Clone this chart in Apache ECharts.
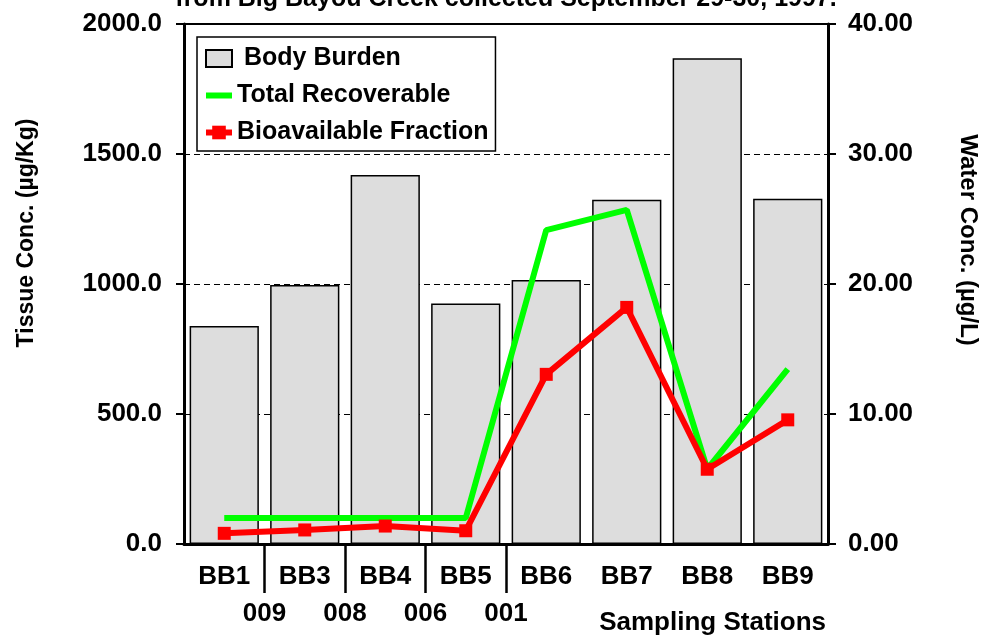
<!DOCTYPE html>
<html>
<head>
<meta charset="utf-8">
<script src="https://cdn.jsdelivr.net/npm/echarts@6/dist/echarts.min.js"></script>
<style>
    html, body { margin: 0; padding: 0; background: #fff; }
    #chart { width: 988px; height: 638px; }
</style>
</head>
<body>
<div id="chart"></div>
<script>
'use strict';

// stations along the creek
var stations = ['BB1', 'BB3', 'BB4', 'BB5', 'BB6', 'BB7', 'BB8', 'BB9'];
// outfall codes sitting between stations
var outfallPos = [1, 2, 3, 4];
var outfallCodes = ['009', '008', '006', '001'];

// tissue conc. (ug/Kg)
var bodyBurden = [838, 996, 1419, 925, 1015, 1324, 1868, 1328];
// water conc. (ug/L)
var totalRecoverable = [2.0, 2.0, 2.0, 2.0, 24.15, 25.7, 5.75, 13.45];
var bioavailable = [0.82, 1.08, 1.38, 1.02, 13.05, 18.2, 5.75, 9.55];

var FONT = '"Liberation Sans", Arial, sans-serif';

function floatchart() {
    var myChart = echarts.init(document.getElementById('chart'));

    var option = {
        animation: false,
        title: {
            text: 'from Big Bayou Creek collected September 29-30, 1997.',
            left: 501,
            textAlign: 'center',
            top: -18,
            textStyle: {
                fontFamily: FONT,
                fontWeight: 'bold',
                fontSize: 25,
                color: '#000'
            }
        },
        legend: {
            orient: 'vertical',
            left: 197,
            top: 37,
            padding: [9, 7, 6, 6],
            itemGap: 12,
            itemWidth: 26,
            itemHeight: 17,
            borderColor: '#000',
            borderWidth: 1.5,
            backgroundColor: '#fff',
            data: [
                {name: 'Body Burden', icon: 'rect'},
                {name: 'Total Recoverable', itemStyle: {opacity: 0}, lineStyle: {width: 6}},
                {name: 'Bioavailable Fraction', lineStyle: {width: 6}}
            ],
            formatter: function (name) {
                return name === 'Body Burden' ? ' ' + name : name;
            },
            textStyle: {
                fontFamily: FONT,
                fontWeight: 'bold',
                fontSize: 25,
                color: '#000'
            }
        },
        grid: {
            left: 184,
            right: 160,
            top: 24,
            bottom: 94,
            show: true,
            borderColor: '#000',
            borderWidth: 2,
            containLabel: false
        },
        xAxis: [
            {
                type: 'category',
                data: stations,
                position: 'bottom',
                axisLine: {lineStyle: {color: '#000', width: 3}},
                axisTick: {alignWithLabel: true, length: 8, lineStyle: {color: '#000', width: 2}},
                axisLabel: {
                    margin: 20,
                    fontFamily: FONT,
                    fontWeight: 'bold',
                    fontSize: 26,
                    color: '#000'
                }
            },
            {
                type: 'value',
                position: 'bottom',
                min: 0,
                max: 8,
                interval: 1,
                axisLine: {show: false},
                splitLine: {show: false},
                axisTick: {
                    show: true,
                    customValues: outfallPos,
                    length: 49,
                    lineStyle: {color: '#000', width: 2.5}
                },
                axisLabel: {
                    customValues: outfallPos,
                    margin: 57,
                    fontFamily: FONT,
                    fontWeight: 'bold',
                    fontSize: 26,
                    color: '#000',
                    formatter: function (v) {
                        var i = outfallPos.indexOf(v);
                        return i >= 0 ? outfallCodes[i] : '';
                    }
                }
            }
        ],
        yAxis: [
            {
                type: 'value',
                min: 0,
                max: 2000,
                interval: 500,
                axisLine: {show: true, lineStyle: {color: '#000', width: 3}},
                axisTick: {show: true, length: 8, lineStyle: {color: '#000', width: 2}},
                splitLine: {show: true, lineStyle: {color: '#000', width: 1, type: [6, 4]}},
                axisLabel: {
                    margin: 22,
                    fontFamily: FONT,
                    fontWeight: 'bold',
                    fontSize: 26,
                    color: '#000',
                    formatter: function (v) { return v.toFixed(1); }
                }
            },
            {
                type: 'value',
                min: 0,
                max: 40,
                interval: 10,
                position: 'right',
                axisLine: {show: true, lineStyle: {color: '#000', width: 3}},
                axisTick: {show: true, length: 8, lineStyle: {color: '#000', width: 2}},
                splitLine: {show: false},
                axisLabel: {
                    margin: 20,
                    fontFamily: FONT,
                    fontWeight: 'bold',
                    fontSize: 26,
                    color: '#000',
                    formatter: function (v) { return v.toFixed(2); }
                }
            }
        ],
        graphic: [
            {
                type: 'text',
                x: 27,
                y: 233,
                rotation: Math.PI / 2,
                style: {
                    text: 'Tissue Conc. (\u00b5g/Kg)',
                    fontFamily: FONT,
                    fontWeight: 'bold',
                    fontSize: 23,
                    fill: '#000',
                    align: 'center',
                    verticalAlign: 'middle',
                    textAlign: 'center',
                    textVerticalAlign: 'middle'
                }
            },
            {
                type: 'text',
                x: 968,
                y: 240,
                rotation: -Math.PI / 2,
                style: {
                    text: 'Water Conc. (\u00b5g/L)',
                    fontFamily: FONT,
                    fontWeight: 'bold',
                    fontSize: 24,
                    fill: '#000',
                    align: 'center',
                    verticalAlign: 'middle',
                    textAlign: 'center',
                    textVerticalAlign: 'middle'
                }
            },
            {
                type: 'text',
                x: 826,
                y: 623,
                style: {
                    text: 'Sampling Stations',
                    fontFamily: FONT,
                    fontWeight: 'bold',
                    fontSize: 26,
                    fill: '#000',
                    align: 'right',
                    verticalAlign: 'middle',
                    textAlign: 'right',
                    textVerticalAlign: 'middle'
                }
            }
        ],
        series: [
            {
                name: 'Body Burden',
                type: 'bar',
                xAxisIndex: 0,
                yAxisIndex: 0,
                data: bodyBurden,
                barCategoryGap: '14%',
                itemStyle: {color: '#dddddd', borderColor: '#000', borderWidth: 1.5}
            },
            {
                name: 'Total Recoverable',
                type: 'line',
                xAxisIndex: 0,
                yAxisIndex: 1,
                data: totalRecoverable,
                symbol: 'none',
                lineStyle: {color: '#00ff00', width: 6},
                itemStyle: {color: '#00ff00'}
            },
            {
                name: 'Bioavailable Fraction',
                type: 'line',
                xAxisIndex: 0,
                yAxisIndex: 1,
                data: bioavailable,
                symbol: 'rect',
                symbolSize: 13,
                lineStyle: {color: '#ff0000', width: 6},
                itemStyle: {color: '#ff0000'}
            }
        ]
    };

    myChart.setOption(option);
    window.onresize = function () {
        myChart.resize();
    };
}

floatchart();
</script>
</body>
</html>
